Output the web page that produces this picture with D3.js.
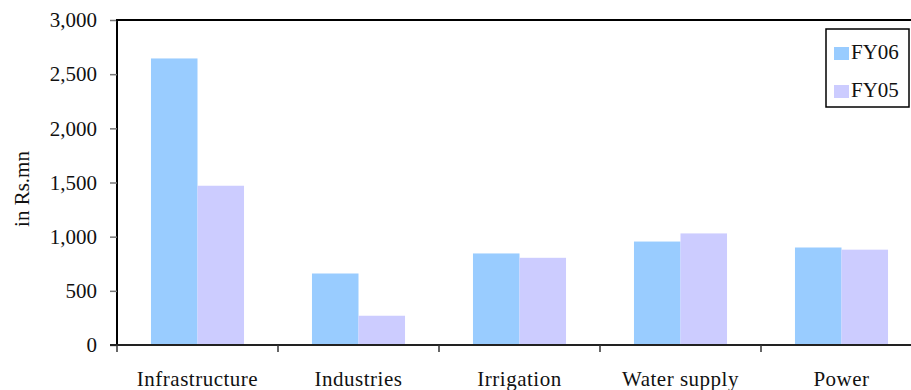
<!DOCTYPE html>
<html>
<head>
<meta charset="utf-8">
<script src="https://cdn.jsdelivr.net/npm/d3@7"></script>
<style>
  html, body { margin: 0; padding: 0; background: #fff; }
  svg { display: block; }
</style>
</head>
<body>
<svg id="chart" width="911" height="390"></svg>
<script>
// Spending by sector, in Rs.mn
const categories = ["Infrastructure", "Industries", "Irrigation", "Water supply", "Power"];
const seriesNames = ["FY06", "FY05"];
const fy06 = [2645, 660, 845, 955, 900];
const fy05 = [1470, 270, 805, 1030, 880];
const yTicks = [0, 500, 1000, 1500, 2000, 2500, 3000];
const colors = { FY06: "#99CCFF", FY05: "#CCCCFF" };

const FONT = "'Liberation Serif'";
const rows = categories.map((c, i) => ({ category: c, FY06: fy06[i], FY05: fy05[i] }));

const svg = d3.select("#chart");
const plotLeft = 117, plotTop = 20, plotBottom = 345, step = 161;
const plotRight = plotLeft + step * categories.length;

const x0 = d3.scaleBand().domain(categories).range([plotLeft, plotRight]).padding(0);
const x1 = d3.scaleBand().domain(seriesNames).range([0, x0.bandwidth()])
  .paddingInner(0).paddingOuter(0.73);
const y = d3.scaleLinear().domain([0, 3000]).range([plotBottom, plotTop]);

// bars
const groups = svg.append("g").selectAll("g").data(rows).join("g")
  .attr("transform", d => `translate(${x0(d.category)},0)`);
groups.selectAll("rect")
  .data(d => seriesNames.map(s => ({ key: s, value: d[s] })))
  .join("rect")
  .attr("x", d => x1(d.key))
  .attr("y", d => y(d.value))
  .attr("width", x1.bandwidth())
  .attr("height", d => y(0) - y(d.value))
  .attr("fill", d => colors[d.key]);

// y axis
const yAxis = svg.append("g").attr("transform", `translate(${plotLeft},0)`)
  .call(d3.axisLeft(y).tickValues(yTicks).tickSize(7).tickPadding(13)
    .tickFormat(d3.format(",")));
yAxis.attr("font-family", null).attr("font-size", null);
yAxis.select(".domain").attr("stroke", "#000").attr("stroke-width", 2)
  .attr("d", `M0,${plotBottom}V${plotTop}`);
yAxis.selectAll(".tick line").attr("stroke", "#777").attr("stroke-width", 1.5);
yAxis.selectAll(".tick text")
  .style("font-family", FONT).style("font-size", "21px").attr("fill", "#111");

// top border of plot area
svg.append("line").attr("x1", plotLeft - 1).attr("x2", 911)
  .attr("y1", plotTop).attr("y2", plotTop).attr("stroke", "#000").attr("stroke-width", 2);

// x axis with ticks between categories
const xAxis = svg.append("g").attr("transform", `translate(0,${plotBottom})`);
xAxis.append("line").attr("x1", plotLeft - 7).attr("x2", plotRight)
  .attr("stroke", "#222").attr("stroke-width", 2);
const boundaries = categories.map(c => x0(c)).concat([plotRight]);
xAxis.selectAll("line.tk").data(boundaries).join("line").attr("class", "tk")
  .attr("x1", d => d).attr("x2", d => d).attr("y1", 0).attr("y2", 7)
  .attr("stroke", "#333").attr("stroke-width", 1.5);
xAxis.selectAll("text").data(categories).join("text")
  .attr("x", d => x0(d) + x0.bandwidth() / 2)
  .attr("y", 41)
  .attr("text-anchor", "middle")
  .attr("fill", "#111")
  .style("font-family", FONT).style("font-size", "21px").style("letter-spacing", "0.5px")
  .text(d => d);

// y axis title
svg.append("text")
  .attr("transform", "translate(29,189) rotate(-90)")
  .attr("text-anchor", "middle")
  .attr("fill", "#111")
  .style("font-family", FONT).style("font-size", "21px")
  .text("in Rs.mn");

// legend
const legend = svg.append("g").attr("transform", "translate(826,29)");
legend.append("rect").attr("width", 83).attr("height", 78)
  .attr("fill", "#fff").attr("stroke", "#000").attr("stroke-width", 1.5);
seriesNames.forEach((s, i) => {
  const g = legend.append("g").attr("transform", `translate(0,${i * 38})`);
  g.append("rect").attr("x", 8).attr("y", 18).attr("width", 15).attr("height", 13)
    .attr("fill", colors[s]);
  g.append("text").attr("x", 25).attr("y", 30).attr("fill", "#111")
    .style("font-family", FONT).style("font-size", "21px").text(s);
});
</script>
</body>
</html>
